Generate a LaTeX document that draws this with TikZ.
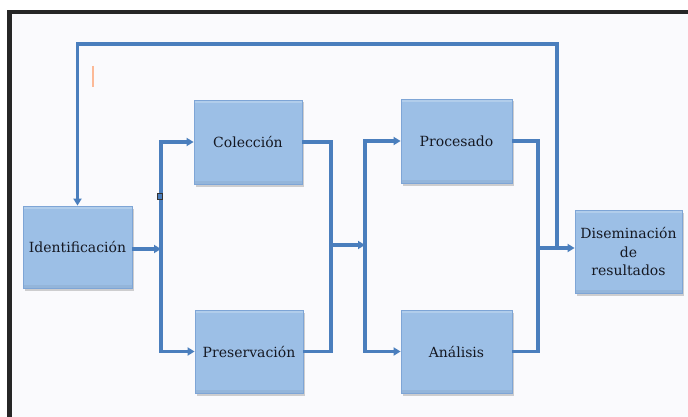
\documentclass[tikz,border=0pt]{standalone}
\usepackage{fontspec}
\setmainfont{DejaVu Serif}
\usetikzlibrary{arrows.meta,shadows}

\definecolor{pagebg}{HTML}{FAFAFD}
\definecolor{framecol}{HTML}{262626}
\definecolor{flowcol}{HTML}{4A7EBD}
\definecolor{boxfill}{HTML}{9CBFE6}
\definecolor{boxedge}{HTML}{7EA5D6}
\definecolor{textcol}{HTML}{151822}

\tikzset{
  stagebox/.style={
    rectangle, fill=boxfill, draw=boxedge, line width=0.8pt,
    text=textcol, align=center,
    font=\fontsize{14}{18.5}\selectfont,
    drop shadow={shadow xshift=1.5pt, shadow yshift=-2.5pt, opacity=0.3, fill=black!60},
    path picture={
      \fill[white, opacity=0.22]
        (path picture bounding box.north west) rectangle
        ([yshift=-3pt]path picture bounding box.north east);
      \fill[black, opacity=0.05]
        (path picture bounding box.south west) rectangle
        ([yshift=3pt]path picture bounding box.south east);
    }
  },
  flow/.style={draw=flowcol, line width=3.4pt, line join=miter},
  flowarrow/.style={flow, -{Triangle[length=7pt,width=8pt]}},
}

\begin{document}
\begin{tikzpicture}[x=1pt, y=-1pt]
  % canvas and outer frame
  \fill[white] (0,0) rectangle (688,417);
  \useasboundingbox (0,0) rectangle (688,417);
  \fill[pagebg] (9.5,12) rectangle (688,417);
  \draw[framecol, line width=4.5pt] (9.5,417) -- (9.5,12) -- (688,12);

  % stages of the workflow
  \node[stagebox, minimum width=109pt, minimum height=82pt] (ident)    at (77.5,247)  {Identificación};
  \node[stagebox, minimum width=108pt, minimum height=84pt] (colec)    at (248,142)   {Colección};
  \node[stagebox, minimum width=108pt, minimum height=83pt] (preserv)  at (249,351.5) {Preservación};
  \node[stagebox, minimum width=111pt, minimum height=84pt] (proces)   at (456.5,141) {Procesado};
  \node[stagebox, minimum width=111pt, minimum height=83pt] (analisis) at (456.5,351.5) {Análisis};
  \node[stagebox, minimum width=107pt, minimum height=83pt] (disem)    at (628.5,251.5) {Diseminación\\de\\resultados};

  % junction points of the connectors
  \coordinate (splitA) at (161,249);
  \coordinate (mergeA) at (331,245);
  \coordinate (splitB) at (365,245);
  \coordinate (mergeB) at (538,248);
  \coordinate (fbfoot) at (557,248);
  \coordinate (fbtop)  at (557,44);

  % identification splits into collection and preservation
  \draw[flowarrow] (ident.east |- splitA) -- (splitA);
  \draw[flowarrow] (splitA) |- (colec.west);
  \draw[flowarrow] (splitA) |- (preserv.west);

  % both branches merge, then split into processing and analysis
  \draw[flow] (colec.east) -| (mergeA);
  \draw[flow] (preserv.east) -| (mergeA);
  \draw[flowarrow] (mergeA) -- (splitB);
  \draw[flowarrow] (splitB) |- (proces.west);
  \draw[flowarrow] (splitB) |- (analisis.west);

  % processing and analysis merge into dissemination
  \draw[flow] (proces.east) -| (mergeB);
  \draw[flow] (analisis.east) -| (mergeB);
  \draw[flowarrow] (mergeB) -- (disem.west |- mergeB);

  % feedback loop back to identification
  \draw[flowarrow] (fbfoot) -- (fbtop) -| (ident.north);

  % small stray marks
  \draw[draw=orange!70!red, opacity=0.4, line width=1.1pt] (93,66) -- (93,87);
  \draw[draw=black!80, line width=0.9pt, fill=flowcol] (157.5,193.5) rectangle (162,199);
\end{tikzpicture}
\end{document}
